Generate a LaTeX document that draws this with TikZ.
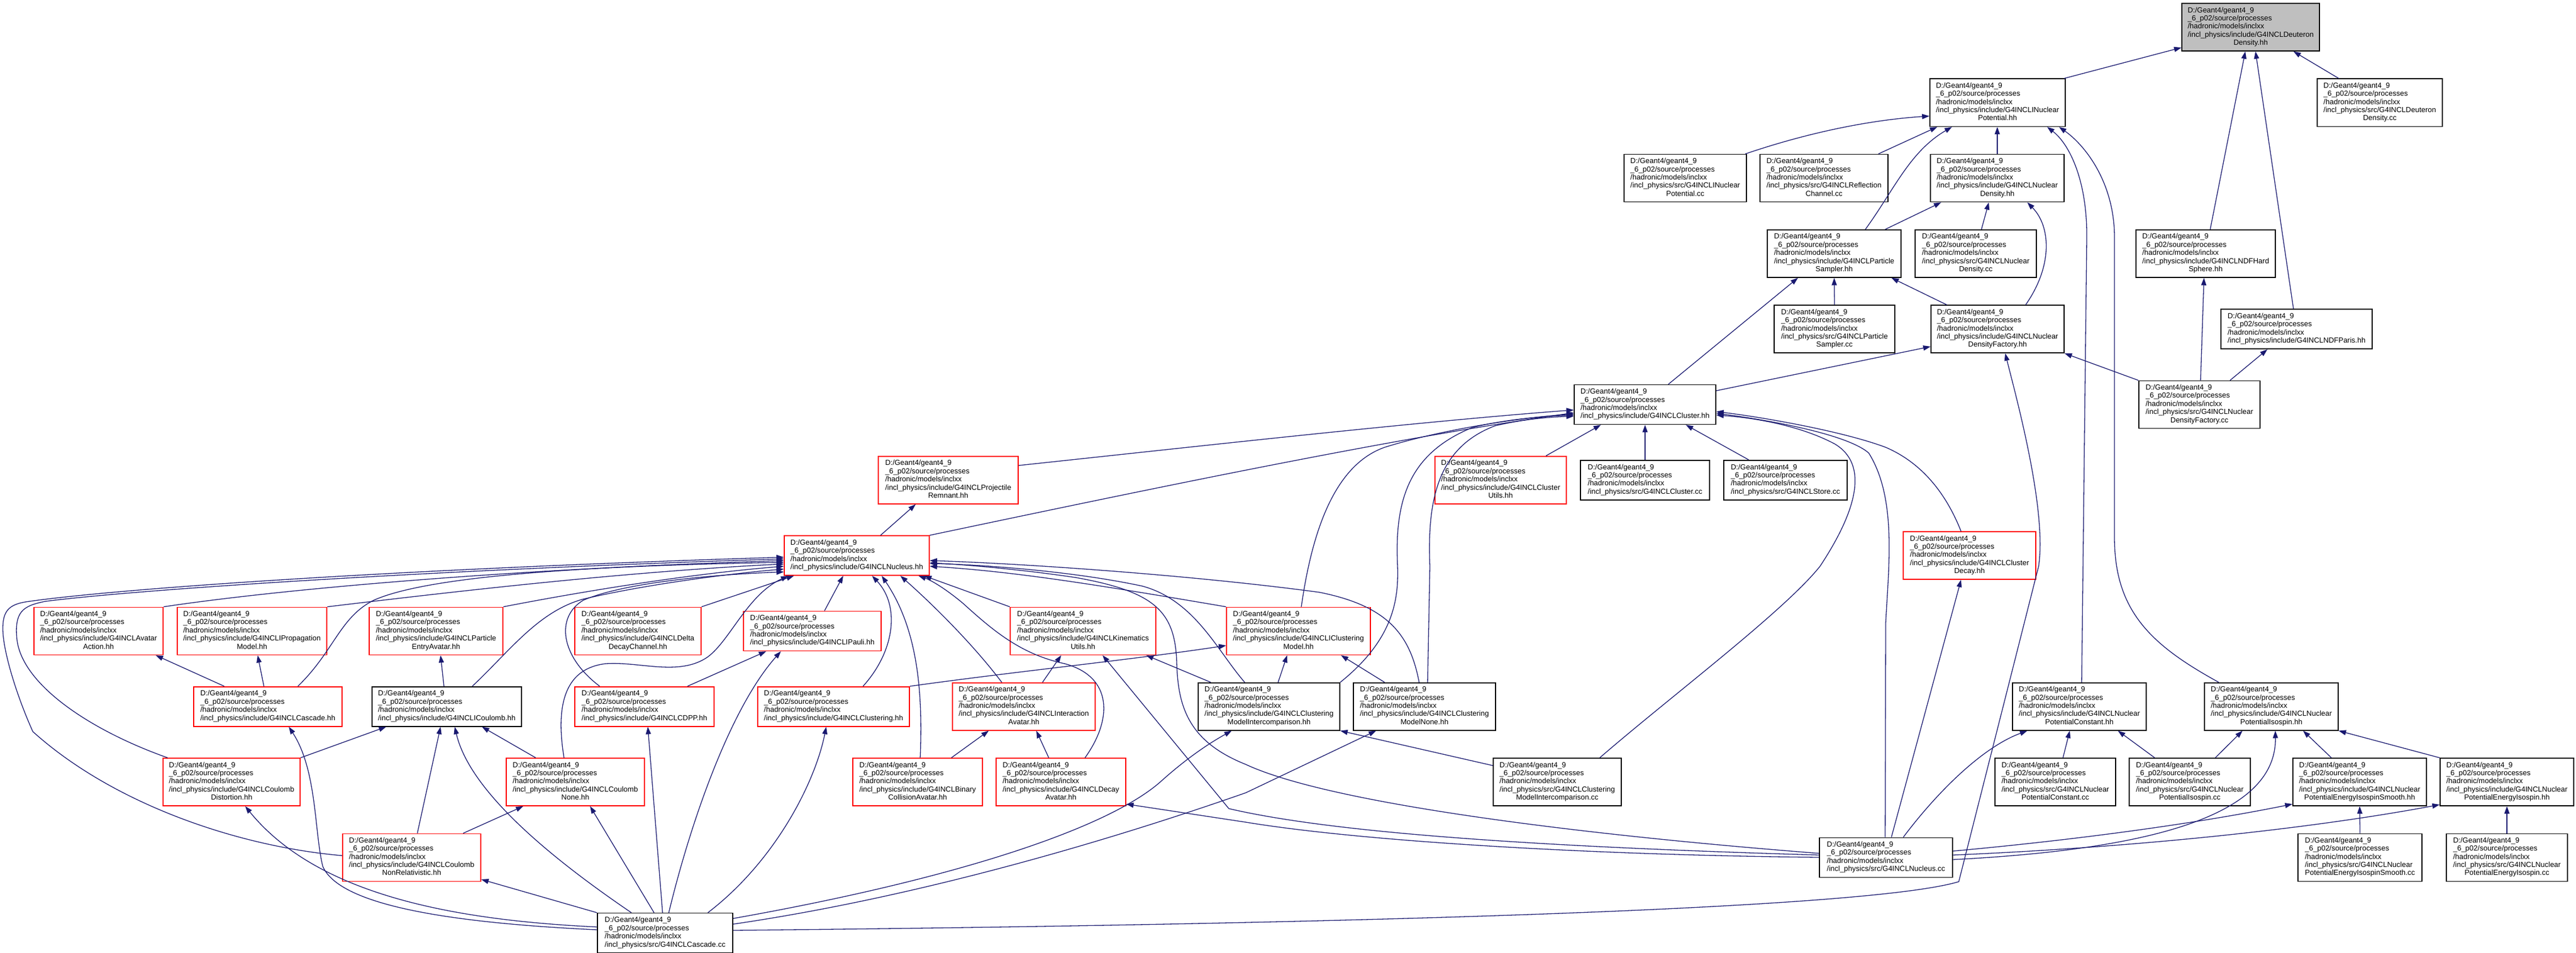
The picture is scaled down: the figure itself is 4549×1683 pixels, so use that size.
\documentclass[tikz,border=0pt]{standalone}
\usepackage{fontspec}
\setmainfont{Liberation Sans}
\usetikzlibrary{arrows.meta}
\definecolor{mblue}{HTML}{191970}
\definecolor{gfill}{HTML}{BFBFBF}
\newcommand{\nodefont}{\fontsize{13}{14.4}\selectfont}
\newcommand{\LA}[2]{\begin{tabular}{@{}l@{}}D:/Geant4/geant4\_9\\ \_6\_p02/source/processes\\ /hadronic/models/inclxx\\ /incl\_physics/#1/G4INCL#2\end{tabular}}
\newcommand{\LB}[3]{\begin{tabular}{@{}l@{}}D:/Geant4/geant4\_9\\ \_6\_p02/source/processes\\ /hadronic/models/inclxx\\ /incl\_physics/#1/G4INCL#2\\ \multicolumn{1}{@{}c@{}}{#3}\end{tabular}}
\newcommand{\bx}[6]{\node[#1, minimum width=#4, minimum height=#5] (#2) at (#3) {#6};}
\tikzset{
  base/.style={draw, line width=1.6pt, inner sep=0pt, font=\nodefont, fill=white},
  bk/.style={base, draw=black},
  rd/.style={base, draw=red},
  gy/.style={base, draw=black, fill=gfill},
  edge/.style={draw=mblue, line width=1.3pt, -{Triangle[length=13pt,width=9pt]}}
}
\begin{document}
\begin{tikzpicture}[x=1pt,y=-1pt]
\useasboundingbox (0,0) rectangle (4549,1683);
\fill[white] (0,0) rectangle (4549,1683);
% nodes
\bx{gy}{gray}{3974.5,48}{243}{84}{\LB{include}{Deuteron}{Density.hh}}
\bx{bk}{NPot}{3527.5,181.3}{239}{84}{\LB{include}{INuclear}{Potential.hh}}
\bx{bk}{DDcc}{4202.5,181.3}{221}{84}{\LB{src}{Deuteron}{Density.cc}}
\bx{bk}{NPotcc}{2976,314.6}{216}{84}{\LB{src}{INuclear}{Potential.cc}}
\bx{bk}{Reflcc}{3221,314.6}{226}{84}{\LB{src}{Reflection}{Channel.cc}}
\bx{bk}{NDens}{3527,314.6}{236}{84}{\LB{include}{Nuclear}{Density.hh}}
\bx{bk}{PSamp}{3239,447.9}{236}{84}{\LB{include}{Particle}{Sampler.hh}}
\bx{bk}{NDenscc}{3489,447.9}{214}{84}{\LB{src}{Nuclear}{Density.cc}}
\bx{bk}{HardSph}{3895,447.9}{246}{84}{\LB{include}{NDFHard}{Sphere.hh}}
\bx{bk}{PSampcc}{3239.5,581.2}{213}{84}{\LB{src}{Particle}{Sampler.cc}}
\bx{bk}{NDF}{3527.5,581.2}{235}{84}{\LB{include}{Nuclear}{DensityFactory.hh}}
\bx{bk}{Paris}{4055.5,581.2}{267}{70}{\LA{include}{NDFParis.hh}}
\bx{bk}{NDFcc}{3884,714.5}{214}{84}{\LB{src}{Nuclear}{DensityFactory.cc}}
\bx{bk}{Cluster}{2905,714.5}{250}{70}{\LA{include}{Cluster.hh}}
\bx{rd}{ProjRem}{1674.5,847.8}{247}{84}{\LB{include}{Projectile}{Remnant.hh}}
\bx{rd}{ClUtils}{2650,847.8}{232}{84}{\LB{include}{Cluster}{Utils.hh}}
\bx{bk}{Clustercc}{2905,847.8}{228}{70}{\LA{src}{Cluster.cc}}
\bx{bk}{Storecc}{3153,847.8}{218}{70}{\LA{src}{Store.cc}}
\bx{rd}{ClDecay}{3478,981.1}{234}{84}{\LB{include}{Cluster}{Decay.hh}}
\bx{rd}{Nucleus}{1513,981.1}{256}{70}{\LA{include}{Nucleus.hh}}
\bx{rd}{AvAct}{174,1114.4}{228}{84}{\LB{include}{Avatar}{Action.hh}}
\bx{rd}{PropMod}{445,1114.4}{264}{84}{\LB{include}{IPropagation}{Model.hh}}
\bx{rd}{PEA}{770,1114.4}{236}{84}{\LB{include}{Particle}{EntryAvatar.hh}}
\bx{rd}{Delta}{1126.5,1114.4}{223}{84}{\LB{include}{Delta}{DecayChannel.hh}}
\bx{rd}{Pauli}{1434.5,1114.4}{243}{70}{\LA{include}{IPauli.hh}}
\bx{rd}{Kin}{1912.5,1114.4}{257}{84}{\LB{include}{Kinematics}{Utils.hh}}
\bx{rd}{ClMod}{2293,1114.4}{254}{84}{\LB{include}{IClustering}{Model.hh}}
\bx{rd}{Cascade}{473,1247.7}{262}{70}{\LA{include}{Cascade.hh}}
\bx{bk}{Coulomb}{789,1247.7}{264}{70}{\LA{include}{ICoulomb.hh}}
\bx{rd}{CDPP}{1138,1247.7}{246}{70}{\LA{include}{CDPP.hh}}
\bx{rd}{Clustering}{1472,1247.7}{268}{70}{\LA{include}{Clustering.hh}}
\bx{rd}{IA}{1808,1247.7}{252}{84}{\LB{include}{Interaction}{Avatar.hh}}
\bx{bk}{MIhh}{2241,1247.7}{250}{84}{\LB{include}{Clustering}{ModelIntercomparison.hh}}
\bx{bk}{MNone}{2515.5,1247.7}{251}{84}{\LB{include}{Clustering}{ModelNone.hh}}
\bx{bk}{PConst}{3672,1247.7}{236}{84}{\LB{include}{Nuclear}{PotentialConstant.hh}}
\bx{bk}{PIso}{4011,1247.7}{236}{84}{\LB{include}{Nuclear}{PotentialIsospin.hh}}
\bx{rd}{CDist}{409,1381}{242}{84}{\LB{include}{Coulomb}{Distortion.hh}}
\bx{rd}{CNone}{1016,1381}{244}{84}{\LB{include}{Coulomb}{None.hh}}
\bx{rd}{BCA}{1620.5,1381}{229}{84}{\LB{include}{Binary}{CollisionAvatar.hh}}
\bx{rd}{DecAv}{1873.5,1381}{229}{84}{\LB{include}{Decay}{Avatar.hh}}
\bx{bk}{MIcc}{2750,1381}{226}{84}{\LB{src}{Clustering}{ModelIntercomparison.cc}}
\bx{bk}{PConstcc}{3629.5,1381}{213}{84}{\LB{src}{Nuclear}{PotentialConstant.cc}}
\bx{bk}{PIsocc}{3867,1381}{214}{84}{\LB{src}{Nuclear}{PotentialIsospin.cc}}
\bx{bk}{PEISh}{4167,1381}{236}{84}{\LB{include}{Nuclear}{PotentialEnergyIsospinSmooth.hh}}
\bx{bk}{PEIh}{4427,1381}{236}{84}{\LB{include}{Nuclear}{PotentialEnergyIsospin.hh}}
\bx{rd}{CNR}{727,1514.3}{244}{84}{\LB{include}{Coulomb}{NonRelativistic.hh}}
\bx{bk}{Nucleuscc}{3330.5,1514.3}{235}{70}{\LA{src}{Nucleus.cc}}
\bx{bk}{PEIShcc}{4167.5,1514.3}{219}{84}{\LB{src}{Nuclear}{PotentialEnergyIsospinSmooth.cc}}
\bx{bk}{PEIcc}{4427,1514.3}{214}{84}{\LB{src}{Nuclear}{PotentialEnergyIsospin.cc}}
\bx{bk}{Cascadecc}{1174.5,1647.6}{239}{70}{\LA{src}{Cascade.cc}}
% edges: top
\draw[edge] (3645,0 |- NPot.north) -- (gray.west |- 0,84);
\draw[edge] (4130,0 |- DDcc.north) -- (4050,0 |- gray.south);
\draw[edge] (3903,0 |- HardSph.north) -- (3965,0 |- gray.south);
\draw[edge] (4050,0 |- Paris.north) -- (3983,0 |- gray.south);
\draw[edge] (3082,0 |- NPotcc.north) .. controls (3190,235) and (3300,212) .. (NPot.west |- 0,205);
\draw[edge] (3317,0 |- Reflcc.north) -- (3421,0 |- NPot.south);
\draw[edge] (3294,0 |- PSamp.north) .. controls (3345,335) and (3372,268) .. (3447,0 |- NPot.south);
\draw[edge] (3527,0 |- NDens.north) -- (3527,0 |- NPot.south);
\draw[edge] (3676,0 |- PConst.north) -- (3685,420) .. controls (3686,320) and (3655,255) .. (3615,0 |- NPot.south);
\draw[edge] (3918,0 |- PIso.north) .. controls (3800,1140) and (3734,1080) .. (3734,950) -- (3734,420) .. controls (3734,320) and (3680,255) .. (3636,0 |- NPot.south);
\draw[edge] (3329,0 |- PSamp.north) -- (3428,0 |- NDens.south);
\draw[edge] (3499,0 |- NDenscc.north) -- (3512,0 |- NDens.south);
\draw[edge] (3577,0 |- NDF.north) .. controls (3625,470) and (3622,400) .. (3580,0 |- NDens.south);
\draw[edge] (PSampcc.north) -- (PSamp.south);
\draw[edge] (2946,0 |- Cluster.north) -- (3175,0 |- PSamp.south);
\draw[edge] (3438,0 |- NDF.north) -- (3340,0 |- PSamp.south);
\draw[edge] (Cluster.east |- 0,690) -- (NDF.west |- 0,612);
\draw[edge] (NDFcc.north west) -- (NDF.south east);
\draw[edge] (Cascadecc.east |- 0,1643) .. controls (2400,1632) and (3300,1605) .. (3459,1557) -- (3600,1000) .. controls (3615,900) and (3560,700) .. (3541,0 |- NDF.south);
\draw[edge] (3886,0 |- NDFcc.north) -- (3892,0 |- HardSph.south);
\draw[edge] (3938,0 |- NDFcc.north) -- (4004,0 |- Paris.south);
% cluster
\draw[edge] (2730,0 |- ClUtils.north) -- (2827,0 |- Cluster.south);
\draw[edge] (Clustercc.north) -- (Cluster.south);
\draw[edge] (3088,0 |- Storecc.north) -- (2977,0 |- Cluster.south);
\draw[edge] (ProjRem.east |- 0,822) .. controls (2100,790) and (2500,745) .. (Cluster.west |- 0,724);
\draw[edge] (1555,0 |- Nucleus.north) -- (1617,0 |- ProjRem.south);
\draw[edge] (Nucleus.north east) .. controls (2000,870) and (2450,775) .. (Cluster.west |- 0,729);
\draw[edge] (2298,0 |- ClMod.north) .. controls (2318,930) and (2360,820) .. (2445,790) .. controls (2540,760) and (2680,738) .. (Cluster.west |- 0,731);
\draw[edge] (MIhh.north east) .. controls (2460,1130) and (2470,1060) .. (2468,1000) .. controls (2462,880) and (2490,800) .. (2600,755) .. controls (2660,740) and (2730,735) .. (Cluster.west |- 0,733);
\draw[edge] (2521,0 |- MNone.north) -- (2525,1000) .. controls (2520,880) and (2540,790) .. (2640,752) .. controls (2700,738) and (2750,736) .. (Cluster.west |- 0,735);
\draw[edge] (2825,0 |- MIcc.north) .. controls (2950,1230) and (3150,1080) .. (3214,1000) .. controls (3280,900) and (3300,820) .. (3240,784) .. controls (3180,752) and (3100,738) .. (Cluster.east |- 0,733);
\draw[edge] (3329,0 |- Nucleuscc.north) -- (3330,1100) .. controls (3335,1000) and (3350,880) .. (3300,800) .. controls (3260,765) and (3110,740) .. (Cluster.east |- 0,730);
\draw[edge] (3463,0 |- ClDecay.north) .. controls (3440,880) and (3400,820) .. (3330,790) .. controls (3250,760) and (3100,735) .. (Cluster.east |- 0,727);
\draw[edge] (3340,0 |- Nucleuscc.north) -- (3463,0 |- ClDecay.south);
% nucleus from the left
\draw[edge] (CNR.west |- 0,1511) .. controls (420,1495) and (200,1420) .. (58,1292) .. controls (30,1230) and (5,1150) .. (5,1110) .. controls (5,1080) and (15,1068) .. (45,1063) .. controls (200,1040) and (700,1005) .. (Nucleus.west |- 0,984);
\draw[edge] (296,0 |- CDist.north) .. controls (160,1290) and (40,1210) .. (30,1130) .. controls (25,1080) and (40,1070) .. (80,1062) .. controls (250,1040) and (800,1005) .. (Nucleus.west |- 0,987);
\draw[edge] (AvAct.north east) .. controls (500,1040) and (900,1005) .. (Nucleus.west |- 0,990);
\draw[edge] (PropMod.north east) .. controls (800,1045) and (1100,1010) .. (Nucleus.west |- 0,996);
\draw[edge] (526,0 |- Cascade.north) .. controls (590,1150) and (600,1090) .. (660,1060) .. controls (750,1020) and (1000,1000) .. (Nucleus.west |- 0,993);
\draw[edge] (PEA.north east) .. controls (1000,1050) and (1200,1015) .. (Nucleus.west |- 0,1000);
\draw[edge] (834,0 |- Coulomb.north) .. controls (900,1150) and (950,1080) .. (1030,1058) .. controls (1150,1030) and (1300,1012) .. (Nucleus.west |- 0,1005);
\draw[edge] (1059,0 |- CDPP.north) .. controls (990,1160) and (980,1090) .. (1030,1060) .. controls (1100,1030) and (1250,1015) .. (Nucleus.west |- 0,1010);
\draw[edge] (996,0 |- CNone.north) .. controls (980,1240) and (1000,1180) .. (1070,1172) .. controls (1130,1168) and (1200,1195) .. (1250,1160) .. controls (1290,1130) and (1320,1050) .. (1392,0 |- Nucleus.south);
\draw[edge] (Delta.north east) -- (1402,0 |- Nucleus.south);
\draw[edge] (1456,0 |- Pauli.north) -- (1489,0 |- Nucleus.south);
\draw[edge] (1524,0 |- Clustering.north) .. controls (1580,1150) and (1590,1070) .. (1540,0 |- Nucleus.south);
\draw[edge] (1625,0 |- BCA.north) .. controls (1630,1220) and (1620,1110) .. (1557,0 |- Nucleus.south);
\draw[edge] (1769,0 |- IA.north) .. controls (1720,1140) and (1650,1070) .. (1590,0 |- Nucleus.south);
\draw[edge] (1916,0 |- DecAv.north) .. controls (1965,1270) and (1965,1195) .. (1880,1172) .. controls (1800,1155) and (1750,1110) .. (1700,1065) .. controls (1670,1040) and (1645,1025) .. (1622,0 |- Nucleus.south);
\draw[edge] (Kin.north west) -- (1632,0 |- Nucleus.south);
% nucleus from the right
\draw[edge] (ClMod.north west) .. controls (1950,1035) and (1800,1010) .. (Nucleus.east |- 0,1000);
\draw[edge] (2198,0 |- MIhh.north) .. controls (2150,1150) and (2110,1060) .. (2017,1035) .. controls (1900,1010) and (1750,998) .. (Nucleus.east |- 0,995);
\draw[edge] (2506,0 |- MNone.north) .. controls (2490,1120) and (2450,1070) .. (2330,1046) .. controls (2100,1015) and (1800,995) .. (Nucleus.east |- 0,990);
\draw[edge] (Nucleuscc.west |- 0,1507) .. controls (2800,1475) and (2350,1420) .. (2200,1350) .. controls (2100,1310) and (2080,1250) .. (2078,1170) .. controls (2075,1080) and (2040,1045) .. (1900,1020) .. controls (1800,1005) and (1700,997) .. (Nucleus.east |- 0,994);
\draw[edge] (Nucleuscc.west |- 0,1510) .. controls (2700,1495) and (2350,1470) .. (2170,1428) -- (1947,0 |- Kin.south);
\draw[edge] (Nucleuscc.west |- 0,1514) .. controls (2800,1510) and (2400,1485) .. (2200,1452) -- (DecAv.east |- 0,1420);
% middle
\draw[edge] (Cascadecc.east |- 0,1622) .. controls (1700,1550) and (1960,1460) .. (2050,1380) .. controls (2100,1335) and (2140,1310) .. (2175,0 |- MIhh.south);
\draw[edge] (Cascadecc.east |- 0,1632) .. controls (1650,1580) and (2000,1470) .. (2200,1400) -- (2430,0 |- MNone.south);
\draw[edge] (2257,0 |- MIhh.north) -- (2273,0 |- ClMod.south);
\draw[edge] (2445,0 |- MNone.north) -- (2368,0 |- ClMod.south);
\draw[edge] (MIcc.west |- 0,1352) -- (MIhh.south east);
\draw[edge] (2138,0 |- MIhh.north) -- (2024,0 |- Kin.south);
\draw[edge] (1841,0 |- IA.north) -- (1874,0 |- Kin.south);
\draw[edge] (Clustering.north east) .. controls (1800,1185) and (2000,1165) .. (ClMod.west |- 0,1140);
\draw[edge] (1680,0 |- BCA.north) -- (1746,0 |- IA.south);
\draw[edge] (1852,0 |- DecAv.north) -- (1830,0 |- IA.south);
\draw[edge] (1214,0 |- CDPP.north) -- (1353,0 |- Pauli.south);
\draw[edge] (1181,0 |- Cascadecc.north) .. controls (1220,1450) and (1290,1250) .. (1379,0 |- Pauli.south);
\draw[edge] (1170,0 |- Cascadecc.north) -- (1144,0 |- CDPP.south);
\draw[edge] (1250,0 |- Cascadecc.north) .. controls (1370,1520) and (1440,1380) .. (1459,0 |- Clustering.south);
\draw[edge] (1155,0 |- Cascadecc.north) -- (1042,0 |- CNone.south);
\draw[edge] (1115,0 |- Cascadecc.north) .. controls (980,1520) and (830,1400) .. (803,0 |- Coulomb.south);
\draw[edge] (Cascadecc.north west) -- (CNR.east |- 0,1553);
\draw[edge] (Cascadecc.west |- 0,1637) .. controls (800,1625) and (560,1580) .. (433,0 |- CDist.south);
\draw[edge] (Cascadecc.west |- 0,1642) .. controls (800,1630) and (600,1600) .. (570,1530) .. controls (555,1470) and (560,1360) .. (510,0 |- Cascade.south);
\draw[edge] (737,0 |- CNR.north) -- (778,0 |- Coulomb.south);
\draw[edge] (CDist.north east) -- (682,0 |- Coulomb.south);
\draw[edge] (946,0 |- CNone.north) -- (851,0 |- Coulomb.south);
\draw[edge] (818,0 |- CNR.north) -- (924,0 |- CNone.south);
\draw[edge] (396,0 |- Cascade.north) -- (275,0 |- AvAct.south);
\draw[edge] (466,0 |- Cascade.north) -- (455,0 |- PropMod.south);
\draw[edge] (784,0 |- Coulomb.north) -- (778,0 |- PEA.south);
% right bottom
\draw[edge] (3643,0 |- PConstcc.north) -- (3655,0 |- PConst.south);
\draw[edge] (3805,0 |- PIsocc.north) -- (3740,0 |- PConst.south);
\draw[edge] (3912,0 |- PIsocc.north) -- (3960,0 |- PIso.south);
\draw[edge] (4117,0 |- PEISh.north) -- (4067,0 |- PIso.south);
\draw[edge] (PEIh.north west) -- (PIso.south east);
\draw[edge] (PEIShcc.north) -- (PEISh.south);
\draw[edge] (PEIcc.north) -- (PEIh.south);
\draw[edge] (3361,0 |- Nucleuscc.north) .. controls (3420,1400) and (3500,1320) .. (3580,0 |- PConst.south);
\draw[edge] (Nucleuscc.east |- 0,1518) .. controls (3800,1500) and (4020,1440) .. (4018,0 |- PIso.south);
\draw[edge] (Nucleuscc.east |- 0,1503) .. controls (3700,1480) and (3900,1450) .. (PEISh.west |- 0,1420);
\draw[edge] (Nucleuscc.east |- 0,1510) .. controls (3800,1495) and (4100,1460) .. (PEIh.west |- 0,1421);
\end{tikzpicture}
\end{document}
